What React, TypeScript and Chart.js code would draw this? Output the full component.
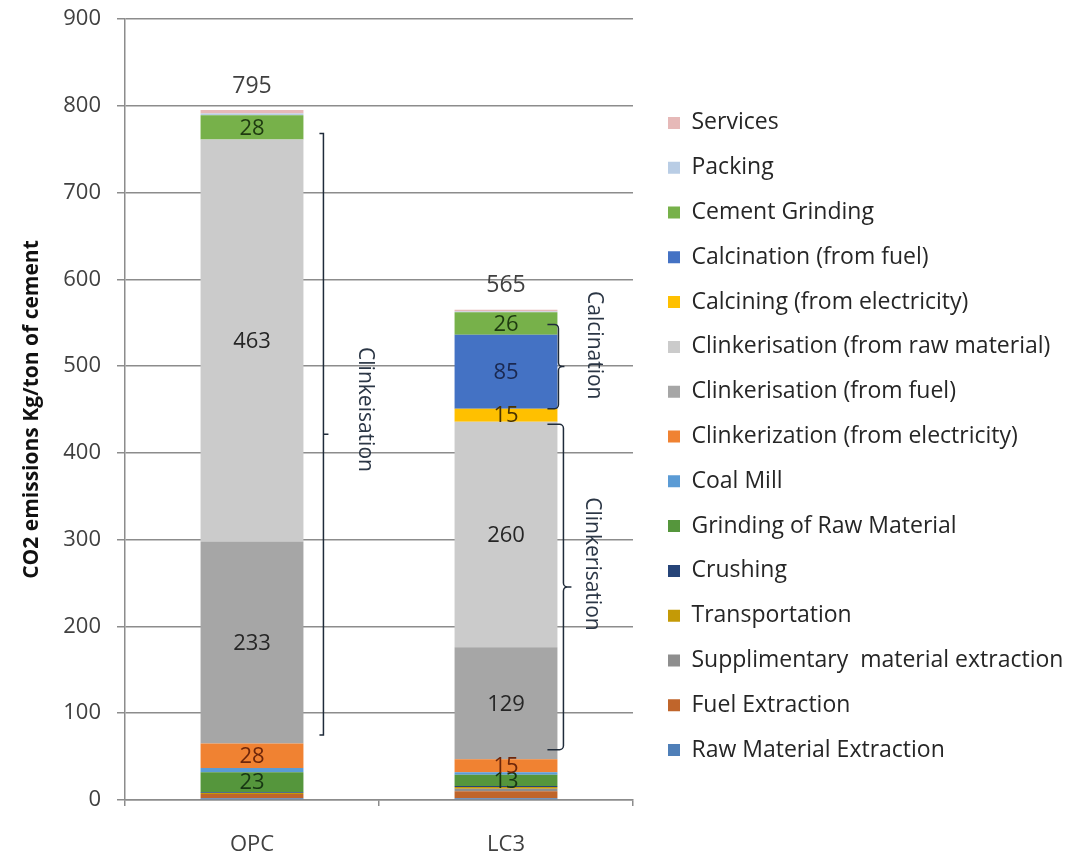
import React, { useEffect, useRef } from 'react';
import { Chart, registerables } from 'chart.js';

Chart.register(...registerables);

// ---- Data -------------------------------------------------------------
const categories = ['OPC', 'LC3'];

// Stack segments, listed from the bottom of each bar to the top
const rawMaterialExtraction = [2, 2];
const fuelExtraction = [5, 8];
const supplementaryExtraction = [0, 3];
const transportation = [1, 2];
const crushing = [1, 1];
const grindingRawMaterial = [23, 13];
const coalMill = [5, 3];
const clinkerElectricity = [28, 15];
const clinkerFuel = [233, 129];
const clinkerRawMaterial = [463, 260];
const calciningElectricity = [0, 15];
const calcinationFuel = [0, 85];
const cementGrinding = [28, 26];
const packing = [2, 1];
const services = [4, 2];

const seriesNames = [
  'Raw Material Extraction',
  'Fuel Extraction',
  'Supplimentary  material extraction',
  'Transportation',
  'Crushing',
  'Grinding of Raw Material',
  'Coal Mill',
  'Clinkerization (from electricity)',
  'Clinkerisation (from fuel)',
  'Clinkerisation (from raw material)',
  'Calcining (from electricity)',
  'Calcination (from fuel)',
  'Cement Grinding',
  'Packing',
  'Services',
];

const seriesValues = [
  rawMaterialExtraction,
  fuelExtraction,
  supplementaryExtraction,
  transportation,
  crushing,
  grindingRawMaterial,
  coalMill,
  clinkerElectricity,
  clinkerFuel,
  clinkerRawMaterial,
  calciningElectricity,
  calcinationFuel,
  cementGrinding,
  packing,
  services,
];

// Process-stage brackets drawn beside the bars (value ranges on the y axis)
const bracketTexts = ['Clinkeisation', 'Calcination', 'Clinkerisation'];
const bracketCategory = ['OPC', 'LC3', 'LC3'];
const bracketLow = [75, 451, 58];
const bracketHigh = [768, 548, 433];
const bracketTextAt = [450, 524, 272];

const yMin = 0;
const yMax = 900;
const yStep = 100;
const yTitle = 'CO2 emissions Kg/ton of cement';

// ---- Styling ----------------------------------------------------------
const FONT = "'Open Sans', sans-serif";
const AXIS_GREY = '#8c8c8c';
const TEXT_GREY = '#404040';

const seriesColors = [
  '#4f7fb8', // raw material extraction
  '#c0652b', // fuel extraction
  '#8e8e8e', // supplementary material extraction
  '#c49a06', // transportation
  '#264478', // crushing
  '#55963c', // grinding of raw material
  '#5b9bd5', // coal mill
  '#f08232', // clinkerization electricity
  '#a6a6a6', // clinkerisation fuel
  '#cbcbcb', // clinkerisation raw material
  '#ffc000', // calcining electricity
  '#4472c4', // calcination fuel
  '#77b14a', // cement grinding
  '#b9cde5', // packing
  '#e6b9b8', // services
];

const valueLabelColors = [
  '#1f2f4d',
  '#4a2208',
  '#222222',
  '#4a3a00',
  '#0f1c33',
  '#173613',
  '#1f3f5c',
  '#6e260a',
  '#262626',
  '#262626',
  '#4a3300',
  '#1a2850',
  '#1e3a10',
  '#333333',
  '#333333',
];

const bracketStyles = [
  { gap: 20, hook: 4, tip: 5, radius: 0, textGap: 42 },
  { gap: 1, hook: 11, tip: 6, radius: 4, textGap: 36 },
  { gap: 6, hook: 16, tip: 8, radius: 4, textGap: 29 },
];

const CANVAS_W = 1077;
const CANVAS_H = 854;
const PLOT_RIGHT = 633;
const LEGEND_BOX_X = 668;
const LEGEND_FONT_SIZE = 23;
const LEGEND_PADDING = 21.8;
const LEGEND_BOX = 12;

// Segment values inside each bar and the stack total above it
const valueLabelsPlugin = {
  id: 'valueLabels',
  afterDatasetsDraw(chart: any) {
    const { ctx } = chart;
    ctx.save();
    ctx.textAlign = 'center';
    ctx.textBaseline = 'middle';
    ctx.font = `22px ${FONT}`;
    chart.data.datasets.forEach((ds: any, i: number) => {
      const meta = chart.getDatasetMeta(i);
      meta.data.forEach((bar: any, j: number) => {
        const v = ds.data[j];
        if (v < 10) return;
        const p = bar.getProps(['x', 'y', 'base'], true);
        ctx.fillStyle = valueLabelColors[i];
        ctx.fillText(String(v), p.x, (p.y + p.base) / 2 + 1);
      });
    });

    const yScale = chart.scales.y;
    const firstMeta = chart.getDatasetMeta(0);
    ctx.fillStyle = TEXT_GREY;
    ctx.font = `23px ${FONT}`;
    categories.forEach((_, j) => {
      const total = seriesValues.reduce((s, arr) => s + arr[j], 0);
      const x = firstMeta.data[j].x;
      ctx.fillText(String(total), x, yScale.getPixelForValue(total) - 24);
    });
    ctx.restore();
  },
};

// Brackets marking the clinkerisation / calcination stages
const bracketsPlugin = {
  id: 'stageBrackets',
  afterDatasetsDraw(chart: any) {
    const { ctx } = chart;
    const yScale = chart.scales.y;
    const meta = chart.getDatasetMeta(0);
    ctx.save();
    bracketTexts.forEach((text, k) => {
      const st = bracketStyles[k];
      const bar = meta.data[categories.indexOf(bracketCategory[k])];
      const p = bar.getProps(['x', 'width'], true);
      const xLine = p.x + p.width / 2 + st.gap;
      const yTop = yScale.getPixelForValue(bracketHigh[k]);
      const yBot = yScale.getPixelForValue(bracketLow[k]);
      const yMid = (yTop + yBot) / 2;
      const r = st.radius;

      ctx.strokeStyle = '#1f2b3a';
      ctx.lineWidth = 1.5;
      ctx.beginPath();
      if (r > 0) {
        ctx.moveTo(xLine - st.hook, yTop);
        ctx.arcTo(xLine, yTop, xLine, yTop + r, r);
        ctx.lineTo(xLine, yMid - r);
        ctx.arcTo(xLine, yMid, xLine + st.tip, yMid, r);
        ctx.lineTo(xLine + st.tip, yMid);
        ctx.moveTo(xLine + st.tip, yMid);
        ctx.arcTo(xLine, yMid, xLine, yMid + r, r);
        ctx.lineTo(xLine, yBot - r);
        ctx.arcTo(xLine, yBot, xLine - st.hook, yBot, r);
        ctx.lineTo(xLine - st.hook, yBot);
      } else {
        ctx.moveTo(xLine - st.hook, yTop);
        ctx.lineTo(xLine, yTop);
        ctx.lineTo(xLine, yBot);
        ctx.lineTo(xLine - st.hook, yBot);
        ctx.moveTo(xLine, yMid);
        ctx.lineTo(xLine + st.tip, yMid);
      }
      ctx.stroke();

      ctx.translate(xLine + st.textGap, yScale.getPixelForValue(bracketTextAt[k]));
      ctx.rotate(Math.PI / 2);
      ctx.fillStyle = '#2b3645';
      ctx.font = `21px ${FONT}`;
      ctx.textAlign = 'center';
      ctx.textBaseline = 'middle';
      ctx.fillText(text, 0, 0);
      ctx.setTransform(1, 0, 0, 1, 0, 0);
    });
    ctx.restore();
  },
};

export default function App() {
  const canvasRef = useRef<HTMLCanvasElement | null>(null);

  useEffect(() => {
    const canvas = canvasRef.current;
    if (!canvas) return;

    // Right-hand padding so that the legend column starts at LEGEND_BOX_X
    const mctx = canvas.getContext('2d') as CanvasRenderingContext2D;
    mctx.font = `${LEGEND_FONT_SIZE}px ${FONT}`;
    const widestText = Math.max(...seriesNames.map((n) => mctx.measureText(n).width));
    const legendNatural = LEGEND_PADDING + LEGEND_BOX + LEGEND_FONT_SIZE / 2 + widestText;
    const legendLeft = LEGEND_BOX_X - LEGEND_PADDING;
    const padRight = Math.max(0, CANVAS_W - legendLeft - legendNatural);

    const chart = new Chart(canvas, {
      type: 'bar',
      data: {
        labels: categories,
        datasets: seriesNames.map((name, i) => ({
          label: name,
          data: seriesValues[i],
          backgroundColor: seriesColors[i],
          borderWidth: 0,
          yAxisID: 'y',
          categoryPercentage: 1,
          barPercentage: 0.405,
        })),
      },
      options: {
        responsive: false,
        animation: false,
        events: [],
        font: { family: FONT },
        layout: { padding: { top: 19, bottom: 0, left: 0, right: padRight } },
        plugins: {
          tooltip: { enabled: false },
          legend: {
            position: 'right',
            reverse: true,
            maxWidth: CANVAS_W - padRight - legendLeft,
            labels: {
              boxWidth: LEGEND_BOX,
              boxHeight: LEGEND_BOX,
              padding: LEGEND_PADDING,
              color: '#262626',
              font: { family: FONT, size: LEGEND_FONT_SIZE },
            },
          },
        },
        scales: {
          x: {
            stacked: true,
            grid: {
              drawOnChartArea: false,
              tickLength: 6,
              color: AXIS_GREY,
              lineWidth: 1.5,
            },
            border: { color: AXIS_GREY, width: 1.5 },
            ticks: {
              color: TEXT_GREY,
              font: { family: FONT, size: 22 },
              padding: 26,
            },
            afterFit: (s: any) => {
              s.height = 54;
            },
          },
          y: {
            stacked: true,
            min: yMin,
            max: yMax,
            ticks: {
              stepSize: yStep,
              color: TEXT_GREY,
              font: { family: FONT, size: 22 },
              padding: 16,
            },
            grid: { color: AXIS_GREY, lineWidth: 1.5, tickLength: 8 },
            border: { color: AXIS_GREY, width: 1.5 },
            title: {
              display: true,
              text: yTitle,
              color: '#111111',
              font: { family: FONT, size: 21, weight: 'bold' },
              padding: { top: 19, bottom: 0 },
            },
            afterFit: (s: any) => {
              s.width = 125;
              s.paddingTop = 0;
              s.paddingBottom = 0;
            },
          },
          yRight: {
            position: 'right',
            display: true,
            grid: { display: false, drawTicks: false },
            border: { display: false },
            ticks: { display: false },
            afterFit: (s: any) => {
              const legendWidth = s.chart.legend ? s.chart.legend.width : 0;
              s.width = Math.max(0, s.chart.width - padRight - legendWidth - PLOT_RIGHT);
              s.paddingTop = 0;
              s.paddingBottom = 0;
            },
          },
        },
      } as any,
      plugins: [valueLabelsPlugin, bracketsPlugin],
    });

    return () => chart.destroy();
  }, []);

  return (
    <div
      style={{
        position: 'fixed',
        left: 0,
        top: 0,
        width: CANVAS_W,
        height: CANVAS_H,
        background: '#ffffff',
      }}
    >
      <canvas ref={canvasRef} width={CANVAS_W} height={CANVAS_H} style={{ display: 'block' }} />
    </div>
  );
}
